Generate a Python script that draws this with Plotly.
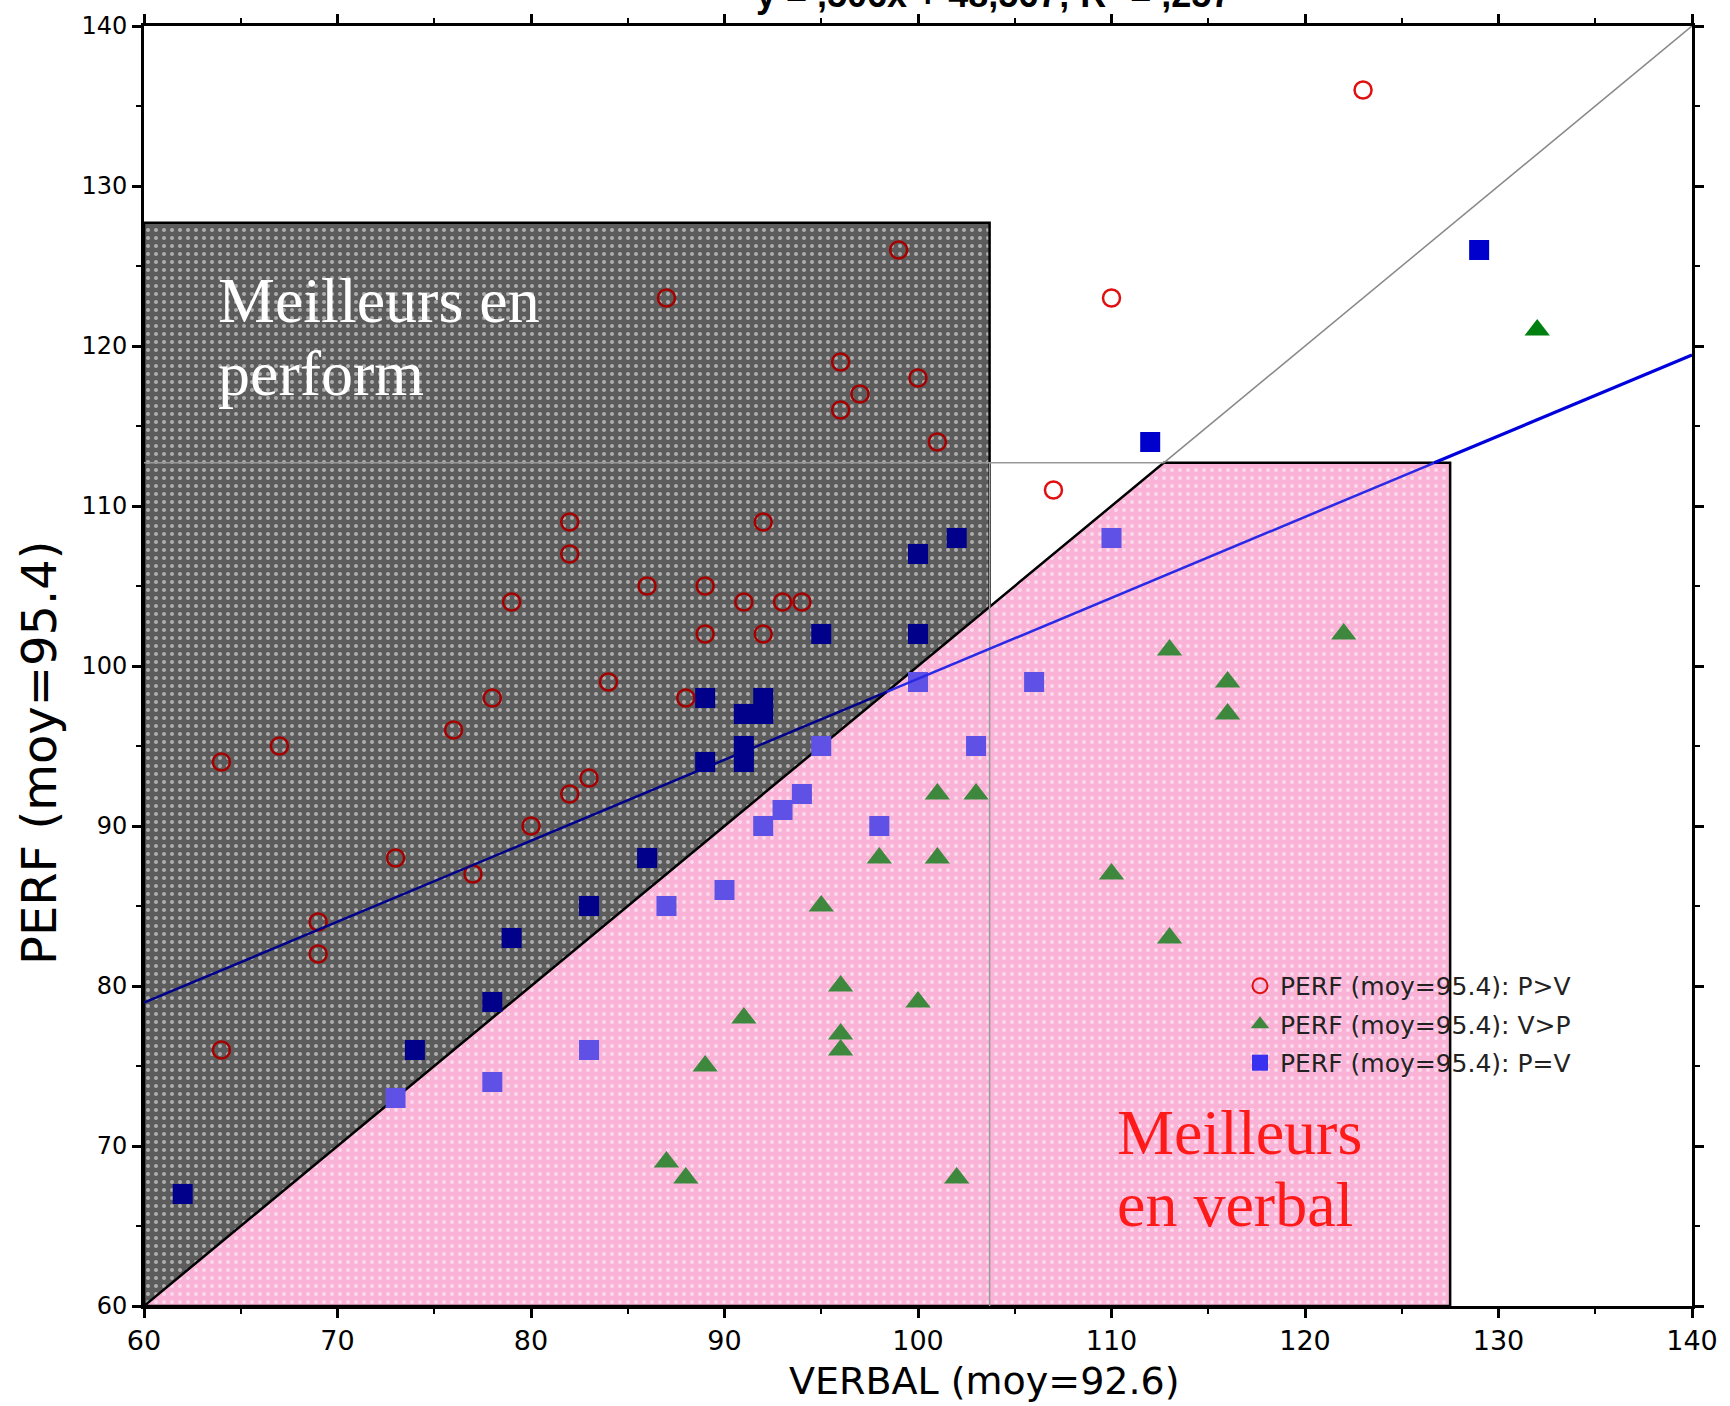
import plotly.graph_objects as go

# ---------------- data ----------------
pv_verbal = [64, 67, 64, 69, 69, 73, 76, 77, 78, 79, 80, 82, 82, 82, 83, 84, 86, 87, 88,
             89, 89, 91, 92, 92, 93, 94, 96, 96, 97, 99, 100, 101, 107, 110, 123]
pv_perf = [94, 95, 76, 84, 82, 88, 96, 87, 98, 104, 90, 92, 107, 109, 93, 99, 105, 123, 98,
           105, 102, 104, 109, 102, 104, 104, 119, 116, 117, 126, 118, 114, 111, 123, 136]

vp_verbal = [87, 88, 89, 91, 95, 96, 96, 96, 98, 100, 101, 101, 102, 103, 110, 113, 113,
             116, 116, 122, 132]
vp_perf = [69, 68, 75, 78, 85, 80, 77, 76, 88, 79, 92, 88, 68, 92, 87, 101, 83,
           99, 97, 102, 121]

eq_verbal = [62, 73, 74, 78, 78, 79, 83, 83, 86, 87, 89, 89, 90, 91, 91, 91, 92, 92, 92,
             93, 94, 95, 95, 98, 100, 100, 100, 102, 103, 106, 110, 112, 129]
eq_perf = [67, 73, 76, 79, 74, 83, 85, 76, 88, 85, 98, 94, 86, 97, 95, 94, 98, 97, 90,
           91, 92, 102, 95, 90, 107, 102, 99, 108, 95, 99, 108, 114, 126]

series_names = ["PERF (moy=95.4): P>V", "PERF (moy=95.4): V>P", "PERF (moy=95.4): P=V"]

# regression
reg_slope = 0.506
reg_intercept = 48.6
reg_label = "<b>y = ,506x + 48,567; R<sup>2</sup> = ,257</b>"

x_title = "VERBAL (moy=92.6)"
y_title = "PERF (moy=95.4)"
label_perf = ["Meilleurs en", "perform"]
label_verb = ["Meilleurs", "en verbal"]

# regions
dark_x = [60, 103.7, 103.7, 60]
dark_y = [60, 60, 127.7, 127.7]
pink_x = [60, 127.5, 127.5, 112.7, 60]
pink_y = [60, 60, 112.7, 112.7, 60]
split_v = 103.7     # vertical gray line
split_h = 112.7     # horizontal gray line

x_range = [60, 140]
y_range = [60, 140]


def region(x, y):
    if y > x and x <= max(dark_x) and y <= max(dark_y):
        return "dark"
    if y <= x and x <= max(pink_x) and y <= max(pink_y):
        return "pink"
    return "white"


fig = go.Figure()

# dark region
fig.add_trace(go.Scatter(
    x=dark_x + [dark_x[0]], y=dark_y + [dark_y[0]], mode="lines", fill="toself",
    fillcolor="#5c5c5c", line=dict(color="black", width=2.5),
    fillpattern=dict(shape=".", bgcolor="#5c5c5c", fgcolor="white", size=8, solidity=0.2),
    hoverinfo="skip", showlegend=False))
# pink region
fig.add_trace(go.Scatter(
    x=pink_x, y=pink_y, mode="lines", fill="toself",
    fillcolor="#f9b3d7", line=dict(color="black", width=2.5),
    fillpattern=dict(shape=".", bgcolor="#f9b3d7", fgcolor="white", size=8, solidity=0.2),
    hoverinfo="skip", showlegend=False))

# gray guide lines
fig.add_trace(go.Scatter(x=[split_v, split_v], y=[y_range[0], split_h], mode="lines",
                         line=dict(color="#999999", width=1.5), hoverinfo="skip", showlegend=False))
fig.add_trace(go.Scatter(x=[x_range[0], split_h], y=[split_h, split_h], mode="lines",
                         line=dict(color="#999999", width=1.5), hoverinfo="skip", showlegend=False))
fig.add_trace(go.Scatter(x=[split_h, x_range[1]], y=[split_h, y_range[1]], mode="lines",
                         line=dict(color="#888888", width=1.5), hoverinfo="skip", showlegend=False))

# markers
col_pv = {"dark": "#a50000", "pink": "#d02040", "white": "#e01010"}
col_vp = {"dark": "#2f6a2f", "pink": "#3d883d", "white": "#008010"}
col_eq = {"dark": "#00008a", "pink": "#5f50e6", "white": "#0000cc"}

fig.add_trace(go.Scatter(
    x=pv_verbal, y=pv_perf, mode="markers", showlegend=False, hoverinfo="x+y",
    marker=dict(symbol="circle-open", size=17,
                color=[col_pv[region(a, b)] for a, b in zip(pv_verbal, pv_perf)],
                line=dict(width=2.5))))
fig.add_trace(go.Scatter(
    x=vp_verbal, y=vp_perf, mode="markers", showlegend=False, hoverinfo="x+y",
    marker=dict(symbol="triangle-up", size=22,
                color=[col_vp[region(a, b)] for a, b in zip(vp_verbal, vp_perf)],
                line=dict(width=0))))
fig.add_trace(go.Scatter(
    x=eq_verbal, y=eq_perf, mode="markers", showlegend=False, hoverinfo="x+y",
    marker=dict(symbol="square", size=20,
                color=[col_eq[region(a, b)] for a, b in zip(eq_verbal, eq_perf)],
                line=dict(width=0))))

# regression line, split by region for shading
x_cross = reg_intercept / (1 - reg_slope)
x_exit = (max(pink_y) - reg_intercept) / reg_slope
seg_x = [[x_range[0], x_cross], [x_cross, x_exit], [x_exit, x_range[1]]]
seg_c = ["#00008a", "#2a2ae6", "#0000dd"]
seg_w = [2.5, 2.5, 3.2]
for xs, c, w in zip(seg_x, seg_c, seg_w):
    fig.add_trace(go.Scatter(x=xs, y=[reg_slope * v + reg_intercept for v in xs], mode="lines",
                             line=dict(color=c, width=w), hoverinfo="skip", showlegend=False))

# legend entries
leg_styles = [
    dict(symbol="circle-open", size=15, color="#e01010", line=dict(width=2)),
    dict(symbol="triangle-up", size=18, color="#3d883d", line=dict(width=0)),
    dict(symbol="square", size=16, color="#3a30f0", line=dict(width=0)),
]
for i, (nm, st) in enumerate(zip(series_names, leg_styles)):
    fig.add_trace(go.Scatter(x=[None], y=[None], mode="markers", name=nm, marker=st,
                             legendgroup=str(i)))

# text annotations (one per line to control spacing)
for txt, yy in zip(label_perf, [125.2, 120.6]):
    fig.add_annotation(x=63.7, y=yy, xref="x", yref="y", text=txt,
                       showarrow=False, xanchor="left", yanchor="top", align="left",
                       font=dict(family="Liberation Serif", size=64, color="white"))
for txt, yy in zip(label_verb, [73.2, 68.7]):
    fig.add_annotation(x=110.2, y=yy, xref="x", yref="y", text=txt,
                       showarrow=False, xanchor="left", yanchor="top", align="left",
                       font=dict(family="Liberation Serif", size=64, color="#ff1a1a"))
fig.add_annotation(x=0.549, y=1, xref="paper", yref="paper", text=reg_label,
                   showarrow=False, xanchor="center", yanchor="bottom", yshift=9,
                   font=dict(family="Liberation Sans", size=36, color="black"))
# axis titles
fig.add_annotation(x=0.543, y=0, xref="paper", yref="paper", text=x_title,
                   showarrow=False, xanchor="center", yanchor="middle", yshift=-75,
                   font=dict(family="DejaVu Sans", size=38, color="black"))
fig.add_annotation(x=0, y=0.432, xref="paper", yref="paper", text=y_title, textangle=-90,
                   showarrow=False, xanchor="center", yanchor="middle", xshift=-105,
                   font=dict(family="DejaVu Sans", size=48, color="black"))

axis_common = dict(showgrid=False, zeroline=False, showline=True, linecolor="black",
                   linewidth=3, mirror="ticks", ticks="outside", ticklen=9, tickwidth=2.5,
                   tickcolor="black",
                   minor=dict(dtick=5, ticks="outside", ticklen=5, tickwidth=2, tickcolor="black"))

fig.update_layout(
    width=1730, height=1406,
    margin=dict(l=144, r=31, t=17, b=100),
    paper_bgcolor="white", plot_bgcolor="white",
    font=dict(family="DejaVu Sans", color="black"),
    showlegend=True,
    legend=dict(x=0.708, y=0.268, xanchor="left", yanchor="top",
                bgcolor="rgba(0,0,0,0)", borderwidth=0, tracegroupgap=3,
                font=dict(family="DejaVu Sans", size=25, color="#222222")),
    xaxis=dict(range=x_range, dtick=10, tick0=60, tickfont=dict(size=27), **axis_common),
    yaxis=dict(range=y_range, dtick=10, tick0=60, tickfont=dict(size=24), **axis_common),
)

fig.write_html("out.html")
